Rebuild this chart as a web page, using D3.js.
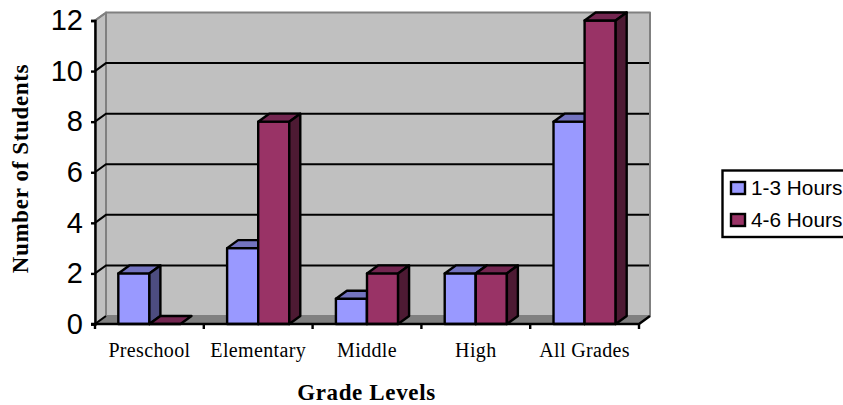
<!DOCTYPE html>
<html>
<head>
<meta charset="utf-8">
<script src="https://cdn.jsdelivr.net/npm/d3@7"></script>
<style>
html,body{margin:0;padding:0;background:#fff;overflow:hidden}
svg{display:block}
</style>
</head>
<body>
<svg id="c" width="843" height="405"></svg>
<script>
const categories = ["Preschool","Elementary","Middle","High","All Grades"];
const seriesNames = ["1-3 Hours","4-6 Hours"];
const hours13 = [2,3,1,2,8];
const hours46 = [0,8,2,2,12];
const yTicks = [0,2,4,6,8,10,12];
const fills = {front:["#9999ff","#993366"],top:["#7373bf","#732650"],side:["#4d4d80","#4d1a33"]};

const svg = d3.select("#c");
const dx = 11, dy = 8;
const x = d3.scaleBand().domain(categories).range([95,639]);
const xs = d3.scaleBand().domain(seriesNames).range([0,x.bandwidth()]).paddingInner(0).paddingOuter(0.75);
const y = d3.scaleLinear().domain([0,12]).range([324,20.5]);
const poly = (pts,fill,stroke,sw)=>svg.append("polygon").attr("points",pts.map(p=>p.join(",")).join(" "))
  .attr("fill",fill).attr("stroke",stroke||"none").attr("stroke-width",sw||0).attr("stroke-linejoin","round");

const L=x.range()[0],R=x.range()[1],B=y(0),T=y(12);
// walls
poly([[L+dx,B-dy],[R+dx,B-dy],[R+dx,T-dy],[L+dx,T-dy]],"#c0c0c0","#808080",2);
poly([[L,B],[L+dx,B-dy],[L+dx,T-dy],[L,T]],"#c0c0c0","#808080",2);
poly([[L,B],[R,B],[R+dx,B-dy],[L+dx,B-dy]],"#808080","#808080",1);
// gridlines
yTicks.filter(t=>t>0&&t<12).forEach(t=>{
  svg.append("path").attr("fill","none").attr("stroke","#000").attr("stroke-width",2)
    .attr("d",`M${L},${y(t)}L${L+dx},${y(t)-dy}H${R+dx-1}`);
});
svg.append("path").attr("fill","none").attr("stroke-width",2)
  .attr("d",`M${L},${T}L${L+dx-1},${T-dy+1}`).attr("stroke","#808080");
svg.append("path").attr("fill","none").attr("stroke","#000").attr("stroke-width",2)
  .attr("d",`M${L},${B}L${L+dx},${B-dy}`);

// bars
categories.forEach((c,i)=>{
  [hours13,hours46].forEach((vals,s)=>{
    const v = vals[i], x0 = x(c)+xs(seriesNames[s]), w = xs.bandwidth(), yt = y(v);
    if(v>0) poly([[x0,yt],[x0+w,yt],[x0+w,B],[x0,B]],fills.front[s],"#000",2.4);
    poly([[x0,yt],[x0+dx,yt-dy],[x0+w+dx,yt-dy],[x0+w,yt]],fills.top[s],"#000",2.4);
    if(v>0) poly([[x0+w,yt],[x0+w+dx,yt-dy],[x0+w+dx,B-dy],[x0+w,B]],fills.side[s],"#000",2.4);
  });
});

// axes
const yAxis = svg.append("g").attr("transform",`translate(${L},0)`)
  .call(d3.axisLeft(y).tickValues(yTicks).tickSize(4).tickPadding(8));
yAxis.selectAll("text").attr("font-family","'Liberation Sans',Arial,sans-serif").attr("font-size",29).attr("fill","#000");
yAxis.selectAll("line,path").attr("stroke","#000").attr("stroke-width",2.4);

const xAxis = svg.append("g").attr("transform",`translate(0,${B})`)
  .call(d3.axisBottom(x).tickSize(0).tickPadding(19));
xAxis.selectAll("text").attr("font-family","'Liberation Serif','Times New Roman',serif").attr("font-size",20).attr("letter-spacing",0.35).attr("fill","#000");
xAxis.selectAll("path").remove();
const edgeTicks = categories.map(c=>x(c)).concat([R]);
svg.append("g").selectAll("line").data(edgeTicks).join("line")
  .attr("x1",d=>d).attr("x2",d=>d).attr("y1",B).attr("y2",B+5).attr("stroke","#000").attr("stroke-width",2.4);
svg.append("path").attr("d",`M${L-4},${B}H${R}L${R+dx},${B-dy}`).attr("fill","none").attr("stroke","#000").attr("stroke-width",2.4);

// titles
svg.append("text").attr("x",366.5).attr("y",400).attr("text-anchor","middle")
  .attr("font-family","'Liberation Serif','Times New Roman',serif").attr("font-weight","bold").attr("font-size",23).attr("letter-spacing",0.65).text("Grade Levels");
svg.append("text").attr("transform","translate(28,168.5) rotate(-90)").attr("text-anchor","middle")
  .attr("font-family","'Liberation Serif','Times New Roman',serif").attr("font-weight","bold").attr("font-size",23).attr("letter-spacing",0.65).text("Number of Students");

// legend
svg.append("rect").attr("x",722.5).attr("y",170.5).attr("width",130).attr("height",66.5)
  .attr("fill","#fff").attr("stroke","#000").attr("stroke-width",2.4);
seriesNames.forEach((n,i)=>{
  const ly = 188 + i*32;
  svg.append("rect").attr("x",731).attr("y",ly-6).attr("width",14).attr("height",12)
    .attr("fill",fills.front[i]).attr("stroke","#000").attr("stroke-width",2.4);
  svg.append("text").attr("x",751).attr("y",ly+7).attr("font-family","'Liberation Sans',Arial,sans-serif")
    .attr("font-size",20.8).attr("fill","#000").text(n);
});
</script>
</body>
</html>
